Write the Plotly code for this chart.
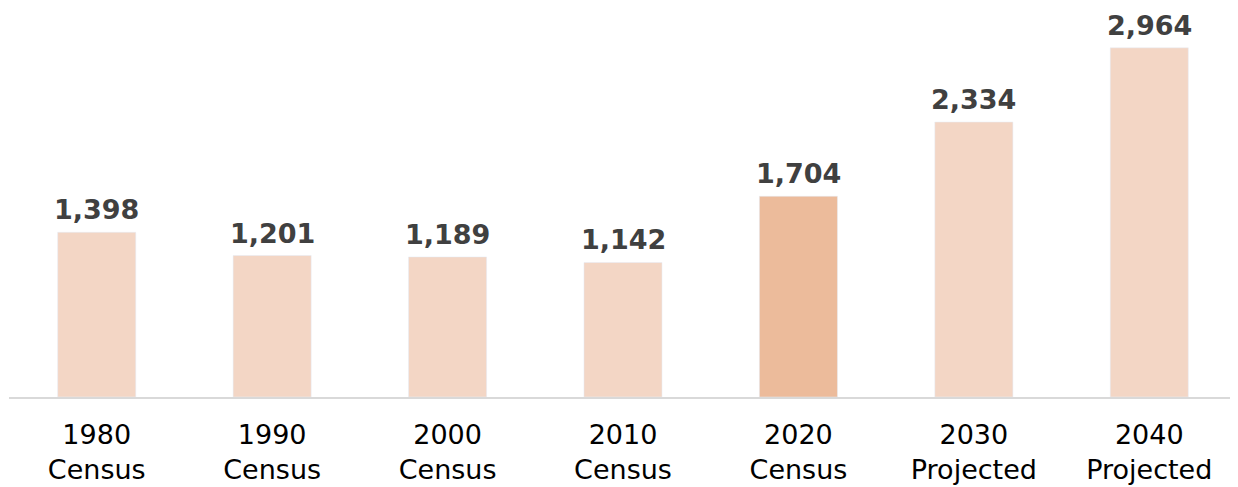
import plotly.graph_objects as go

categories = ["1980<br>Census", "1990<br>Census", "2000<br>Census", "2010<br>Census",
              "2020<br>Census", "2030<br>Projected", "2040<br>Projected"]
values = [1398, 1201, 1189, 1142, 1704, 2334, 2964]
labels = ["1,398", "1,201", "1,189", "1,142", "1,704", "2,334", "2,964"]
bar_colors = ["#F3D6C5", "#F3D6C5", "#F3D6C5", "#F3D6C5", "#ECBB9B", "#F3D6C5", "#F3D6C5"]

fig = go.Figure(go.Bar(
    x=categories, y=values, marker_color=bar_colors, width=0.445,
    hoverinfo="skip",
))

for c, v, t in zip(categories, values, labels):
    fig.add_annotation(x=c, y=v, text=t, showarrow=False, yanchor="bottom",
                       yshift=5, font=dict(family="DejaVu Sans", size=27, color="#404040",
                                           weight="bold"))

fig.update_layout(
    width=1230, height=479,
    margin=dict(l=1, r=1, t=0, b=90),
    plot_bgcolor="white", paper_bgcolor="white",
    showlegend=False,
    xaxis=dict(showline=True, linecolor="#D9D9D9", linewidth=1.5,
               tickfont=dict(family="DejaVu Sans", size=27, color="#000000"),
               ticks="outside", ticklen=13, tickcolor="rgba(0,0,0,0)"),
    yaxis=dict(range=[0, 3302], visible=False, showgrid=False),
)

fig.write_html("out.html")
